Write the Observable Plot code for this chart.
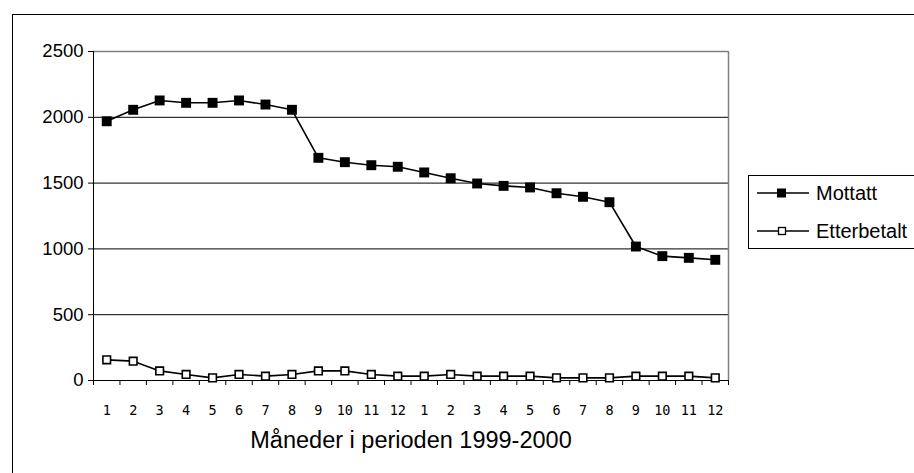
<!DOCTYPE html>
<html>
<head>
<meta charset="utf-8">
<script src="https://cdn.jsdelivr.net/npm/d3@7"></script>
<script src="https://cdn.jsdelivr.net/npm/@observablehq/plot@0.6"></script>
<style>
  html, body { margin: 0; padding: 0; background: #fff; }
  body { width: 914px; height: 473px; overflow: hidden; position: relative; font-family: "Liberation Sans", Arial, sans-serif; }
  #frame { position: absolute; left: 12px; top: 14px; width: 940px; height: 480px; border: 1.5px solid #000; box-sizing: border-box; pointer-events: none; }
  #chart { position: absolute; left: 0; top: 0; }
  #legend { position: absolute; left: 748px; top: 175px; width: 200px; height: 74px; border: 1px solid #000; box-sizing: border-box; background: #fff; }
  .item { position: absolute; left: 8px; height: 24px; line-height: 24px; display: flex; align-items: center; font-size: 20px; color: #000; white-space: nowrap; }
  .item svg { margin-right: 7px; flex: none; }
</style>
</head>
<body>
<div id="chart"></div>
<div id="legend">
  <div class="item" style="top:5px"><svg width="52" height="12"><line x1="0" y1="6" x2="52" y2="6" stroke="#000" stroke-width="1.5"/><rect x="20" y="1.5" width="9" height="9" fill="#000"/></svg>Mottatt</div>
  <div class="item" style="top:43px"><svg width="52" height="12"><line x1="0" y1="6" x2="52" y2="6" stroke="#000" stroke-width="1.5"/><rect x="21.5" y="2.5" width="7" height="7" fill="#fff" stroke="#000" stroke-width="1.3"/></svg>Etterbetalt</div>
</div>
<div id="frame"></div>
<script>
const monthLabels = ["1","2","3","4","5","6","7","8","9","10","11","12","1","2","3","4","5","6","7","8","9","10","11","12"];
const mottatt = [1970, 2057, 2128, 2110, 2110, 2128, 2097, 2057, 1692, 1659, 1636, 1624, 1581, 1537, 1497, 1479, 1467, 1423, 1396, 1355, 1018, 945, 932, 917];
const etterbetalt = [157, 147, 73, 46, 20, 46, 33, 46, 73, 73, 46, 33, 33, 46, 33, 33, 33, 20, 20, 20, 33, 33, 33, 20];
const yTicks = [0, 500, 1000, 1500, 2000, 2500];
const xTitle = "Måneder i perioden 1999-2000";

const n = monthLabels.length;
const rowsM = mottatt.map((v, i) => ({i: i + 0.5, v}));
const rowsE = etterbetalt.map((v, i) => ({i: i + 0.5, v}));
const labelRows = monthLabels.map((l, i) => ({i: i + 0.5, l, y: 0}));
const yLabelRows = yTicks.map(v => ({x: 0, v, t: String(v)}));
const boundaries = d3.range(0, n + 1);

const plot = Plot.plot({
  width: 914,
  height: 473,
  marginLeft: 93,
  marginRight: 186,
  marginTop: 51,
  marginBottom: 93,
  style: {background: "transparent", overflow: "visible"},
  x: {type: "linear", domain: [0, n], axis: null},
  y: {type: "linear", domain: [0, 2500], axis: null},
  marks: [
    Plot.ruleY([500, 1000, 1500, 2000], {stroke: "#000", strokeWidth: 1}),
    Plot.ruleY([2500], {stroke: "#808080", strokeWidth: 1.5}),
    Plot.ruleX([n], {stroke: "#808080", strokeWidth: 1.5}),
    Plot.ruleX([0], {stroke: "#000", strokeWidth: 1}),
    Plot.ruleY([0], {stroke: "#000", strokeWidth: 1}),
    Plot.axisX({ticks: boundaries, tickSize: 5, tickFormat: () => "", stroke: "#000", strokeWidth: 1, label: null}),
    Plot.axisY({ticks: yTicks, tickSize: 5, tickFormat: () => "", stroke: "#000", strokeWidth: 1, label: null}),
    Plot.text(yLabelRows, {x: "x", y: "v", text: "t", dx: -10, textAnchor: "end", fontSize: 18.5, fontFamily: "Liberation Sans, Arial, sans-serif", fill: "#000"}),
    Plot.text(labelRows, {x: "i", y: "y", text: "l", dy: 30, fontSize: 13.5, fontFamily: "DejaVu Sans Mono, monospace", fill: "#000"}),
    Plot.line(rowsM, {x: "i", y: "v", stroke: "#000", strokeWidth: 1.6}),
    Plot.line(rowsE, {x: "i", y: "v", stroke: "#000", strokeWidth: 1.6}),
    Plot.dot(rowsM, {x: "i", y: "v", symbol: "square", r: 5.6, fill: "#000", stroke: "none"}),
    Plot.dot(rowsE, {x: "i", y: "v", symbol: "square", r: 4.3, fill: "#fff", stroke: "#000", strokeWidth: 1.6}),
    Plot.text([{x: n / 2, y: 0, t: xTitle}], {x: "x", y: "y", text: "t", dy: 60, fontSize: 23.5, fontFamily: "Liberation Sans, Arial, sans-serif", fill: "#000"})
  ]
});
document.getElementById("chart").appendChild(plot);
</script>
</body>
</html>
